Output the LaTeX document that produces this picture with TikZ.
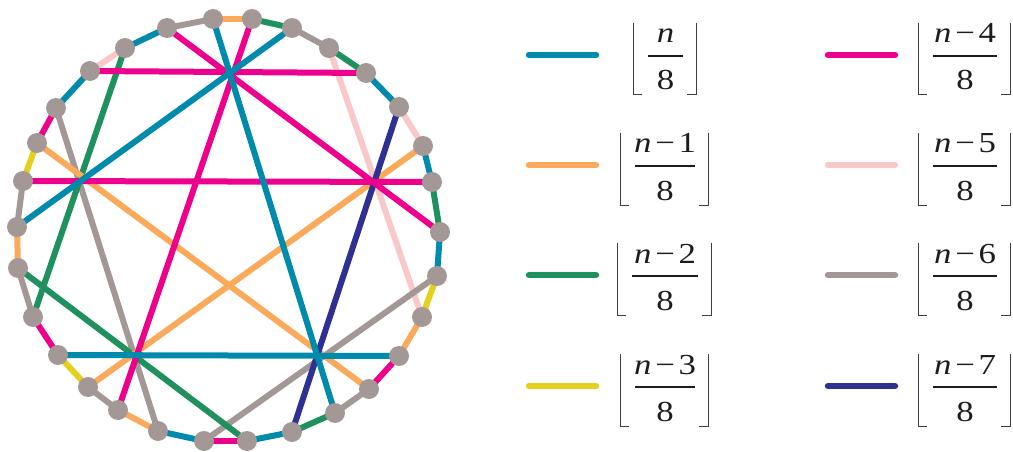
\documentclass[tikz,border=0pt]{standalone}
\usepackage{fontspec}
\setmainfont{Liberation Serif}
\newfontfamily\legfont{Liberation Serif}[FakeStretch=1.2]
\definecolor{cteal}{RGB}{0,138,172}
\definecolor{corange}{RGB}{250,170,90}
\definecolor{cgreen}{RGB}{30,145,95}
\definecolor{cyellow}{RGB}{228,208,30}
\definecolor{cmag}{RGB}{236,0,140}
\definecolor{cpink}{RGB}{249,200,200}
\definecolor{cgray}{RGB}{164,152,150}
\definecolor{cnavy}{RGB}{46,49,146}
\definecolor{ctext}{RGB}{30,27,28}
\pgfdeclarelayer{edgelayer}
\pgfsetlayers{edgelayer,main}
\tikzset{
  gedge/.style={line width=6pt},
  vtx/.style={circle, fill=cgray, minimum size=20pt, inner sep=0pt},
  legline/.style={line width=6.5pt, line cap=round},
  numtxt/.style={anchor=base, inner sep=0pt, text=ctext, font=\legfont\fontsize{29}{31}\selectfont},
  fracbar/.style={line width=1.1pt, draw=ctext},
  floorline/.style={line width=1pt, draw=ctext!85}
}
\newcommand\legentry[7]{%
  \coordinate (#1l0) at (#3,#5-1);
  \coordinate (#1l1) at (#3+67,#5-1);
  \draw[legline,#2] (#1l0) -- (#1l1);
  \node[numtxt] (#1num) at (#4,#5-13) {#7};
  \node[numtxt] (#1den) at (#4,#5+34) {8};
  \coordinate (#1b0) at (#4-#6,#5);
  \coordinate (#1b1) at (#4+#6,#5);
  \draw[fracbar] (#1b0) -- (#1b1);
  \draw[floorline] (#4-#6-15,#5-33) -- (#4-#6-15,#5+39) -- (#4-#6-6,#5+39);
  \draw[floorline] (#4+#6+13,#5-33) -- (#4+#6+13,#5+39) -- (#4+#6+4,#5+39);
}
\newcommand\nminus[1]{\textit{n}\kern4pt−\kern3.5pt#1}
\begin{document}
\begin{tikzpicture}[x=1pt,y=-1pt]
\useasboundingbox (0,0) rectangle (1013,452);
% vertices
\node[vtx] (v1) at (213,19) {};
\node[vtx] (v2) at (252,19) {};
\node[vtx] (v3) at (292,28) {};
\node[vtx] (v4) at (329,48) {};
\node[vtx] (v5) at (366,73) {};
\node[vtx] (v6) at (399,107) {};
\node[vtx] (v7) at (423,146) {};
\node[vtx] (v8) at (432,182) {};
\node[vtx] (v9) at (440,232) {};
\node[vtx] (v10) at (437,276) {};
\node[vtx] (v11) at (422,317) {};
\node[vtx] (v12) at (399,356) {};
\node[vtx] (v13) at (369,389) {};
\node[vtx] (v14) at (335,413) {};
\node[vtx] (v15) at (292,432) {};
\node[vtx] (v16) at (247,441) {};
\node[vtx] (v17) at (204,441) {};
\node[vtx] (v18) at (158,431) {};
\node[vtx] (v19) at (118,410) {};
\node[vtx] (v20) at (88,387) {};
\node[vtx] (v21) at (58,355) {};
\node[vtx] (v22) at (33,317) {};
\node[vtx] (v23) at (18,268) {};
\node[vtx] (v24) at (17,227) {};
\node[vtx] (v25) at (23,181) {};
\node[vtx] (v26) at (37,143) {};
\node[vtx] (v27) at (56,108) {};
\node[vtx] (v28) at (90,71) {};
\node[vtx] (v29) at (125,48) {};
\node[vtx] (v30) at (167,28) {};
\begin{pgfonlayer}{edgelayer}
% chords
\draw[gedge,cpink] (v4.center) -- (v11.center);
\draw[gedge,cgray] (v27.center) -- (v18.center);
\draw[gedge,cgray] (v10.center) -- (v17.center);
\draw[gedge,cgreen] (v29.center) -- (v22.center);
\draw[gedge,cgreen] (v23.center) -- (v16.center);
\draw[gedge,corange] (v26.center) -- (v13.center);
\draw[gedge,corange] (v7.center) -- (v20.center);
\draw[gedge,cnavy] (v6.center) -- (v15.center);
\draw[gedge,cmag] (v30.center) -- (v9.center);
\draw[gedge,cmag] (v28.center) -- (v5.center);
\draw[gedge,cmag] (v2.center) -- (v19.center);
\draw[gedge,cmag] (v25.center) -- (v8.center);
\draw[gedge,cteal] (v1.center) -- (v14.center);
\draw[gedge,cteal] (v3.center) -- (v24.center);
\draw[gedge,cteal] (v21.center) -- (v12.center);
% perimeter
\draw[gedge,corange] (v1.center) -- (v2.center);
\draw[gedge,cgreen] (v2.center) -- (v3.center);
\draw[gedge,cgray] (v3.center) -- (v4.center);
\draw[gedge,cgreen] (v4.center) -- (v5.center);
\draw[gedge,cteal] (v5.center) -- (v6.center);
\draw[gedge,cpink] (v6.center) -- (v7.center);
\draw[gedge,cteal] (v7.center) -- (v8.center);
\draw[gedge,cgreen] (v8.center) -- (v9.center);
\draw[gedge,cteal] (v9.center) -- (v10.center);
\draw[gedge,cyellow] (v10.center) -- (v11.center);
\draw[gedge,corange] (v11.center) -- (v12.center);
\draw[gedge,cmag] (v12.center) -- (v13.center);
\draw[gedge,cgray] (v13.center) -- (v14.center);
\draw[gedge,cgreen] (v14.center) -- (v15.center);
\draw[gedge,cteal] (v15.center) -- (v16.center);
\draw[gedge,cmag] (v16.center) -- (v17.center);
\draw[gedge,cteal] (v17.center) -- (v18.center);
\draw[gedge,corange] (v18.center) -- (v19.center);
\draw[gedge,cgray] (v19.center) -- (v20.center);
\draw[gedge,cyellow] (v20.center) -- (v21.center);
\draw[gedge,cmag] (v21.center) -- (v22.center);
\draw[gedge,cgray] (v22.center) -- (v23.center);
\draw[gedge,corange] (v23.center) -- (v24.center);
\draw[gedge,cgray] (v24.center) -- (v25.center);
\draw[gedge,cyellow] (v25.center) -- (v26.center);
\draw[gedge,cmag] (v26.center) -- (v27.center);
\draw[gedge,cteal] (v27.center) -- (v28.center);
\draw[gedge,cpink] (v28.center) -- (v29.center);
\draw[gedge,cteal] (v29.center) -- (v30.center);
\draw[gedge,cgray] (v30.center) -- (v1.center);
\end{pgfonlayer}
% legend
\legentry{la}{cteal}{529}{665.5}{56}{17.5}{\textit{n}}
\legentry{lb}{corange}{529}{665}{166}{30}{\nminus{1}}
\legentry{lc}{cgreen}{529}{665}{276}{33}{\nminus{2}}
\legentry{ld}{cyellow}{529}{665}{387}{30}{\nminus{3}}
\legentry{le}{cmag}{828}{965}{56}{32}{\nminus{4}}
\legentry{lf}{cpink}{828}{965}{166}{32}{\nminus{5}}
\legentry{lg}{cgray}{828}{965}{276}{32}{\nminus{6}}
\legentry{lh}{cnavy}{828}{965}{387}{32}{\nminus{7}}
\end{tikzpicture}
\end{document}
